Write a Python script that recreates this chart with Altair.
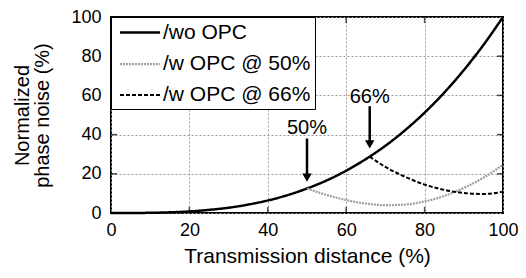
import altair as alt
import pandas as pd

series_names = ["/wo OPC", "/w OPC @ 50%", "/w OPC @ 66%"]

x_wo = [0, 5, 10, 15, 20, 25, 30, 35, 40, 45, 50, 55, 60, 65, 70, 75, 80, 85, 90, 95, 100]
y_wo = [0, 0.01, 0.1, 0.34, 0.8, 1.6, 2.7, 4.3, 6.4, 9.1, 12.5, 16.6, 21.6, 27.5, 34.3, 42.2, 51.2, 61.4, 72.9, 85.7, 100]

x_50 = [50, 55, 60, 65, 70, 75, 80, 85, 90, 95, 100]
y_50 = [12.5, 9.2, 6.6, 4.8, 4.0, 4.3, 5.9, 8.7, 12.8, 18.0, 24.6]

x_66 = [66, 70, 75, 80, 85, 90, 95, 100]
y_66 = [28.7, 23.5, 18.5, 14.5, 11.8, 10.2, 9.7, 10.8]

ann_x = [50, 66]
ann_label = ["50%", "66%"]
ann_text_y = [43.5, 59]
ann_top = [38, 54.5]
ann_tip = [18, 35]

tick_vals = [20, 40, 60, 80]
x_ticks = [0, 20, 40, 60, 80, 100]
y_ticks = [0, 20, 40, 60, 80, 100]

rows = []
for name, xs, ys in zip(series_names, [x_wo, x_50, x_66], [y_wo, y_50, y_66]):
    for a, b in zip(xs, ys):
        rows.append({"series": name, "x": a, "y": b})
df = pd.DataFrame(rows)
ann = pd.DataFrame({"x": ann_x, "label": ann_label, "ty": ann_text_y, "top": ann_top, "tip": ann_tip})
ticks = pd.DataFrame({"v": tick_vals})

FONT = "Liberation Sans"
xscale = alt.Scale(domain=[0, 100], nice=False, padding=0, zero=False)
yscale = alt.Scale(domain=[0, 100], nice=False, padding=0, zero=False)
xaxis = alt.Axis(values=x_ticks, tickCount=6, title="Transmission distance (%)", labelPadding=8, titlePadding=6,
                 labelFlush=False, labelOverlap=False)
yaxis = alt.Axis(values=y_ticks, tickCount=6, title=["Normalized", "phase noise (%)"], labelPadding=10, titlePadding=18,
                 titleFontSize=20, titleLineHeight=20, labelFlush=False, labelOverlap=False)

leg = alt.Legend(
    title=None, orient="top-left", offset=0, padding=4,
    strokeColor="black", fillColor="white", cornerRadius=0,
    labelFont=FONT, labelFontSize=21, labelColor="black",
    symbolType="M-2,0H2", symbolSize=400, symbolStrokeWidth=2.5,
    symbolOffset=13.5, labelOffset=11.5, rowPadding=9.5,
)

lines = alt.Chart(df).mark_line(interpolate="monotone").encode(
    x=alt.X("x:Q", scale=xscale, axis=xaxis),
    y=alt.Y("y:Q", scale=yscale, axis=yaxis),
    color=alt.Color("series:N", scale=alt.Scale(domain=series_names, range=["#000000", "#a0a0a0", "#000000"]), legend=leg),
    strokeDash=alt.StrokeDash("series:N", scale=alt.Scale(domain=series_names, range=[[1, 0], [2, 1], [4, 2]]), legend=leg),
    strokeWidth=alt.StrokeWidth("series:N", scale=alt.Scale(domain=series_names, range=[2.5, 2, 3]), legend=leg),
    order=alt.Order("x:Q"),
)

arrows = alt.Chart(ann).mark_rule(color="black", strokeWidth=2.5).encode(
    x=alt.X("x:Q", axis=xaxis), y=alt.Y("top:Q", axis=yaxis), y2="tip:Q")
heads = alt.Chart(ann).mark_point(shape="triangle-down", filled=True, color="black", size=90, opacity=1).encode(
    x=alt.X("x:Q", axis=xaxis), y=alt.Y("tip:Q", axis=yaxis))
labels = alt.Chart(ann).mark_text(font=FONT, fontSize=20, color="black", baseline="middle").encode(
    x=alt.X("x:Q", axis=xaxis), y=alt.Y("ty:Q", axis=yaxis), text="label:N")

tick_r = alt.Chart(ticks).mark_tick(orient="horizontal", size=12, thickness=1.5, color="black", clip=True).encode(
    x=alt.datum(100), y=alt.Y("v:Q", axis=yaxis))
tick_l = alt.Chart(ticks).mark_tick(orient="horizontal", size=12, thickness=1.5, color="black", clip=True).encode(
    x=alt.datum(0), y=alt.Y("v:Q", axis=yaxis))
tick_b = alt.Chart(ticks).mark_tick(orient="vertical", size=12, thickness=1.5, color="black", clip=True).encode(
    x=alt.X("v:Q", axis=xaxis), y=alt.datum(0))
tick_t = alt.Chart(ticks).mark_tick(orient="vertical", size=12, thickness=1.5, color="black", clip=True).encode(
    x=alt.X("v:Q", axis=xaxis), y=alt.datum(100))

chart = alt.layer(lines, tick_r, tick_l, tick_b, tick_t, arrows, heads, labels).properties(
    width=392, height=196,
    autosize=alt.AutoSizeParams(type="none"),
    padding={"left": 103, "top": 9, "right": 15, "bottom": 57},
).configure_view(
    stroke="black", strokeWidth=2
).configure_axis(
    grid=True, gridDash=[2, 2], gridColor="#9a9a9a", gridWidth=1,
    domain=False, ticks=False,
    labelFont=FONT, labelFontSize=18, labelColor="black",
    titleFont=FONT, titleFontSize=21, titleFontWeight="normal", titleColor="black",
    titleLineHeight=21,
).configure_axisY(
    labelOverlap=False, tickCount=6
)

chart.save("out.html", embed_options={"renderer": "svg", "actions": False})
